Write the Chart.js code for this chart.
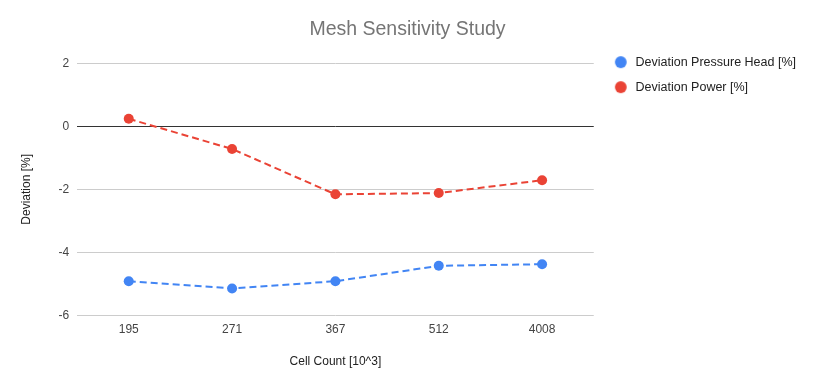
<!DOCTYPE html>
<html>
<head>
<meta charset="utf-8">
<script src="https://cdn.jsdelivr.net/npm/chart.js@4/dist/chart.umd.min.js"></script>
<style>
html,body{margin:0;padding:0;background:#fff;}
#wrap{width:813px;height:387px;position:relative;}
</style>
</head>
<body>
<div id="wrap"><canvas id="c" width="813" height="387"></canvas></div>
<script>
const categories = ['195', '271', '367', '512', '4008'];
const pressureHead = [-4.92, -5.15, -4.92, -4.43, -4.38];
const power = [0.24, -0.72, -2.16, -2.12, -1.71];
const seriesNames = ['Deviation Pressure Head [%]', 'Deviation Power [%]'];
const yTicks = [-6, -4, -2, 0, 2];

const FONT = 'Arial, "Liberation Sans", sans-serif';
const blue = '#4285F4';
const red = '#EA4335';

// legend marker: a 12px dot drawn into a small canvas, offset so it sits left of the text
function makeDot(color) {
  const c = document.createElement('canvas');
  c.width = 24; c.height = 14;
  const g = c.getContext('2d');
  g.fillStyle = color;
  g.beginPath();
  g.arc(15, 7, 5.9, 0, Math.PI * 2);
  g.fill();
  return c;
}

new Chart(document.getElementById('c'), {
  type: 'line',
  data: {
    labels: categories,
    datasets: [
      {
        label: seriesNames[0], data: pressureHead,
        borderColor: blue, backgroundColor: blue,
        borderWidth: 2, borderDash: [7, 4],
        pointRadius: 5, pointHoverRadius: 5, pointBorderWidth: 0,
        pointStyle: 'circle', tension: 0, fill: false
      },
      {
        label: seriesNames[1], data: power,
        borderColor: red, backgroundColor: red,
        borderWidth: 2, borderDash: [7, 4],
        pointRadius: 5, pointHoverRadius: 5, pointBorderWidth: 0,
        pointStyle: 'circle', tension: 0, fill: false
      }
    ]
  },
  options: {
    responsive: false,
    animation: false,
    layout: { padding: { left: 9, right: 7, top: 10, bottom: 14 } },
    plugins: {
      tooltip: { enabled: false },
      title: {
        display: true, text: 'Mesh Sensitivity Study',
        color: '#757575', font: { family: FONT, size: 19.5, weight: 'normal' },
        padding: { top: 8, bottom: 22 }
      },
      legend: {
        position: 'right', align: 'start', maxWidth: 320,
        title: { display: true, text: ' ', padding: { top: 0, bottom: 19 }, font: { family: FONT, size: 12 } },
        labels: {
          usePointStyle: true,
          pointStyleWidth: 23, boxHeight: 12, padding: 12.5,
          color: '#222', font: { family: FONT, size: 12.5 },
          generateLabels: (chart) => {
            const items = Chart.defaults.plugins.legend.labels.generateLabels(chart);
            items.forEach(it => { it.pointStyle = makeDot(it.fillStyle); });
            return items;
          }
        }
      }
    },
    scales: {
      x: {
        offset: true,
        grid: { display: false, drawTicks: false },
        border: { display: false },
        ticks: { color: '#444', font: { family: FONT, size: 12 }, padding: 7 },
        title: { display: true, text: 'Cell Count [10^3]', color: '#222', font: { family: FONT, size: 12 }, padding: { top: 11 } }
      },
      y: {
        min: -6, max: 2,
        afterBuildTicks: (ax) => { ax.ticks = yTicks.map(v => ({ value: v })); },
        grid: {
          color: (ctx) => (ctx.tick && ctx.tick.value === 0) ? '#333333' : '#cccccc',
          lineWidth: 1, drawTicks: false
        },
        border: { display: false },
        ticks: { color: '#444', font: { family: FONT, size: 12 }, padding: 8 },
        title: { display: true, text: 'Deviation [%]', color: '#222', font: { family: FONT, size: 12 }, padding: { top: 10, bottom: 17 } }
      }
    }
  }
});
</script>
</body>
</html>
